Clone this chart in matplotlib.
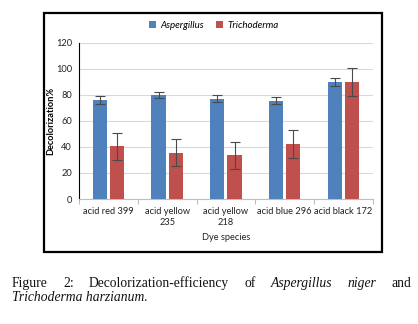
import numpy as np
import matplotlib
matplotlib.use("Agg")
import matplotlib.pyplot as plt
from matplotlib.patches import Rectangle

dyes = ["acid red 399", "acid yellow\n235", "acid yellow\n218", "acid blue 296", "acid black 172"]
aspergillus = [76, 80, 77, 75.5, 90]
aspergillus_err = [3, 2.6, 2.7, 2.7, 2.7]
trichoderma = [40.5, 35.5, 33.5, 42.3, 90]
trichoderma_err = [10.5, 10.4, 10.4, 10.4, 10.7]
yticks = [0, 20, 40, 60, 80, 100, 120]

BLUE = "#4F81BD"
RED = "#C0504D"


def main():
    plt.rcParams['font.family'] = ['Lato', 'DejaVu Sans']
    fig = plt.figure(figsize=(4.18, 3.24), dpi=100)
    ax = fig.add_axes([0.189, 0.3858, 0.703, 0.4815])

    x = np.arange(len(dyes))
    w = 0.243
    off = 0.146
    ekw = dict(ecolor="#4a4a4a", elinewidth=0.8, capsize=3.5, capthick=0.8)
    ax.bar(x - off, aspergillus, w, color=BLUE, yerr=aspergillus_err,
           error_kw=ekw, label="Aspergillus", zorder=3)
    ax.bar(x + off, trichoderma, w, color=RED, yerr=trichoderma_err,
           error_kw=ekw, label="Trichoderma", zorder=3)

    ax.set_xlim(-0.5, len(dyes) - 0.5)
    ax.set_ylim(0, 120)
    ax.set_yticks(yticks)
    ax.yaxis.grid(True, color="#d9d9d9", linewidth=0.8, zorder=0)
    ax.set_axisbelow(True)
    ax.tick_params(axis="y", length=0, labelsize=6.7, pad=5, colors="#222222")

    ax.set_xticks(x)
    ax.set_xticklabels(dyes, fontsize=6.7, color="#222222", linespacing=1.25)
    ax.tick_params(axis="x", length=0, pad=6)
    ax.set_xticks(np.arange(-0.5, len(dyes)), minor=True)
    ax.tick_params(axis="x", which="minor", length=3.5, width=0.8, color="#bfbfbf")

    for s in ["top", "right"]:
        ax.spines[s].set_visible(False)
    ax.spines["left"].set_color("#000000")
    ax.spines["left"].set_linewidth(0.8)
    ax.spines["bottom"].set_color("#bfbfbf")
    ax.spines["bottom"].set_linewidth(0.8)

    ax.set_ylabel("Decolorization%", fontsize=6.7, fontweight="bold", labelpad=0.5)
    ax.set_xlabel("Dye species", fontsize=6.7, labelpad=4, color="#222222")

    leg = ax.legend(loc="center", bbox_to_anchor=(0.459, 1.115), ncol=2,
                    frameon=False, fontsize=7, handlelength=0.7, handleheight=0.7,
                    handletextpad=0.4, columnspacing=1.3, borderaxespad=0)
    for t in leg.get_texts():
        t.set_fontstyle("italic")

    # black frame around the chart
    fig.patches.append(Rectangle((44 / 418, 1 - 252 / 324), (382 - 44) / 418, (252 - 13) / 324,
                                 transform=fig.transFigure, fill=False,
                                 edgecolor="black", linewidth=1.6))

    # caption, first line justified between left and right edge
    cap = dict(fontsize=9.8, family="Liberation Serif", va="baseline", color="#111111")
    y1 = 1 - 287 / 324
    y2 = 1 - 301 / 324
    left_px, right_px = 12, 411
    words = [("Figure", "normal"), ("2:", "normal"), ("Decolorization-efficiency", "normal"),
             ("of", "normal"), ("Aspergillus", "italic"), ("niger", "italic"), ("and", "normal")]
    texts = [fig.text(0, y1, wtxt, style=st, **cap) for wtxt, st in words]
    renderer = fig.canvas.get_renderer()
    widths = [t.get_window_extent(renderer).width for t in texts]
    gap = (right_px - left_px - sum(widths)) / (len(texts) - 1)
    pos = left_px
    for t, wd in zip(texts, widths):
        t.set_x(pos / 418)
        pos += wd + gap
    fig.text(left_px / 418, y2, "Trichoderma harzianum.", style="italic", **cap)

    fig.savefig("out.png", dpi=100)


if __name__ == "__main__":
    main()
